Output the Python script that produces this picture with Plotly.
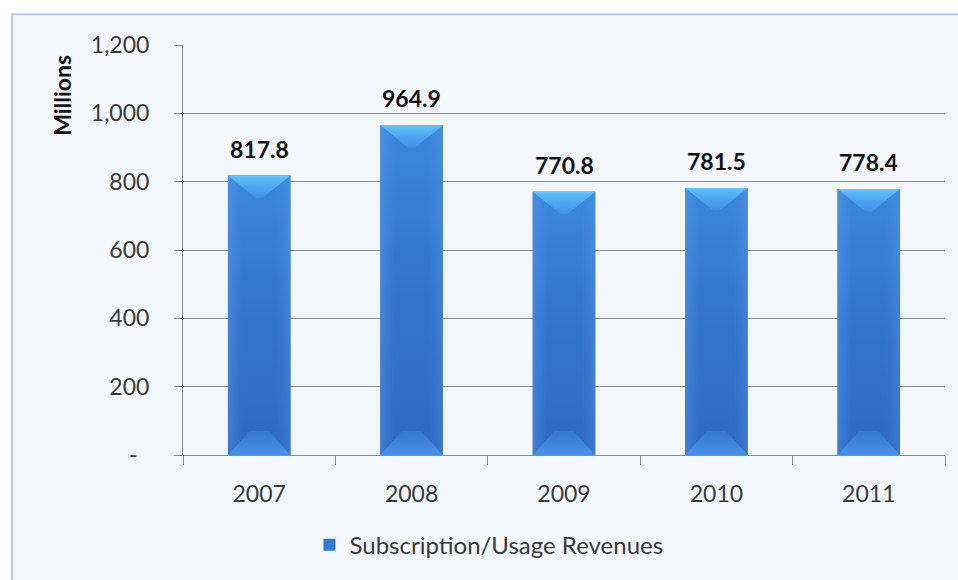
import plotly.graph_objects as go

# Annual subscription / usage revenues (millions)
years = ["2007", "2008", "2009", "2010", "2011"]
revenues = [817.8, 964.9, 770.8, 781.5, 778.4]
y_tick_values = [0, 200, 400, 600, 800, 1000, 1200]
y_tick_labels = ["-\u00a0\u00a0", "200", "400", "600", "800", "1,000", "1,200"]
series_name = "Subscription/Usage Revenues"

FONT = "Lato, Calibri, sans-serif"
TEXT_COLOR = "#3a3a3a"
GRID_COLOR = "#8a8a8a"
BAR_COLOR = "#3479d2"
BAR_WIDTH = 0.41
TOP_BEVEL = 66     # bevel depths in axis units
BOTTOM_BEVEL = 70

x_pos = list(range(len(years)))

fig = go.Figure()

fig.add_trace(go.Bar(
    x=x_pos, y=revenues, width=BAR_WIDTH, name=series_name,
    marker=dict(color=BAR_COLOR, line=dict(width=0)),
    showlegend=True, hoverinfo="y",
))

# bevel shading drawn over each bar, built from the bar's own value
for i, v in zip(x_pos, revenues):
    left, right = i - BAR_WIDTH / 2, i + BAR_WIDTH / 2
    # body with a soft vertical gradient
    fig.add_trace(go.Scatter(
        x=[left, right, right, left, left], y=[0, 0, v, v, 0],
        mode="lines", line=dict(width=0), fill="toself",
        fillgradient=dict(type="vertical",
                          colorscale=[[0, "#2e6bc2"], [0.5, "#3275cd"], [1, "#3b87dc"]]),
        showlegend=False, hoverinfo="skip",
    ))
    # soft lighter edges on both sides
    strip = BAR_WIDTH * 0.22
    for a, b, scale in (
        (left, left + strip, [[0, "rgba(110,170,240,0.30)"], [1, "rgba(110,170,240,0)"]]),
        (right - strip, right, [[0, "rgba(110,170,240,0)"], [1, "rgba(110,170,240,0.22)"]]),
    ):
        fig.add_trace(go.Scatter(
            x=[a, b, b, a, a], y=[0, 0, v, v, 0],
            mode="lines", line=dict(width=0), fill="toself",
            fillgradient=dict(type="horizontal", colorscale=scale),
            showlegend=False, hoverinfo="skip",
        ))
    # top bevel (light V)
    half = BAR_WIDTH * 0.05
    fig.add_trace(go.Scatter(
        x=[left, right, i + half, i - half, left],
        y=[v, v, v - TOP_BEVEL, v - TOP_BEVEL, v],
        mode="lines", line=dict(width=0), fill="toself",
        fillgradient=dict(type="vertical",
                          colorscale=[[0, "#3f91e3"], [0.5, "#4ea5ee"], [0.88, "#5dbbf7"], [1, "#6acafc"]]),
        showlegend=False, hoverinfo="skip",
    ))
    # bottom bevel (light trapezoid)
    half_b = BAR_WIDTH * 0.15
    fig.add_trace(go.Scatter(
        x=[left, right, i + half_b, i - half_b, left],
        y=[0, 0, BOTTOM_BEVEL, BOTTOM_BEVEL, 0],
        mode="lines", line=dict(width=0), fill="toself",
        fillgradient=dict(type="vertical",
                          colorscale=[[0, "#4893e6"], [1, "#3377cf"]]),
        showlegend=False, hoverinfo="skip",
    ))

# value labels above the bars
for i, v in zip(x_pos, revenues):
    fig.add_annotation(
        x=i, y=v, xref="x", yref="y", text=f"{v:,.1f}", showarrow=False,
        xanchor="center", yanchor="middle", yshift=27,
        font=dict(family=FONT, size=23, color="#111111", weight="bold"),
    )

# rotated unit label near the top of the value axis
fig.add_annotation(
    x=-0.159, y=0.878, xref="paper", yref="paper", text="<b>Millions</b>",
    textangle=-90, showarrow=False, xanchor="center", yanchor="middle",
    font=dict(family=FONT, size=23, color="#111111"),
)

# light panel behind the chart
fig.add_shape(
    type="rect", xref="paper", yref="paper", layer="below",
    x0=-0.2244, x1=1.03, y0=-0.32, y1=1.0749,
    fillcolor="#f3f6fb", line=dict(color="#b9cde6", width=2),
)

fig.update_layout(
    width=958, height=580,
    margin=dict(l=183, r=13, t=45, b=121, pad=0),
    paper_bgcolor="white", plot_bgcolor="rgba(0,0,0,0)",
    font=dict(family=FONT, size=23, color=TEXT_COLOR),
    bargap=0.59,
    legend=dict(
        orientation="h", x=0.166, xanchor="left", y=-0.22, yanchor="middle",
        font=dict(family=FONT, size=24, color=TEXT_COLOR),
        bgcolor="rgba(0,0,0,0)", itemclick=False,
    ),
    showlegend=True,
)

fig.update_xaxes(
    range=[-0.5, len(years) - 0.5],
    tickvals=x_pos, ticktext=years, ticks="",
    showline=True, linecolor=GRID_COLOR, linewidth=1,
    showgrid=False, zeroline=False,
    ticklabelstandoff=18,
    minor=dict(tickvals=[k - 0.5 for k in range(len(years) + 1)],
               ticks="outside", ticklen=9, tickcolor=GRID_COLOR, tickwidth=1,
               showgrid=False),
    tickfont=dict(family=FONT, size=23, color=TEXT_COLOR),
    fixedrange=True,
)

fig.update_yaxes(
    range=[0, 1200], tickvals=y_tick_values, ticktext=y_tick_labels,
    ticks="outside", ticklen=8, tickcolor=GRID_COLOR, tickwidth=1,
    showline=True, linecolor=GRID_COLOR, linewidth=1,
    showgrid=True, gridcolor=GRID_COLOR, gridwidth=1,
    zeroline=False, ticklabelstandoff=20,
    tickfont=dict(family=FONT, size=23, color=TEXT_COLOR),
    fixedrange=True,
)

fig.write_html("out.html")
